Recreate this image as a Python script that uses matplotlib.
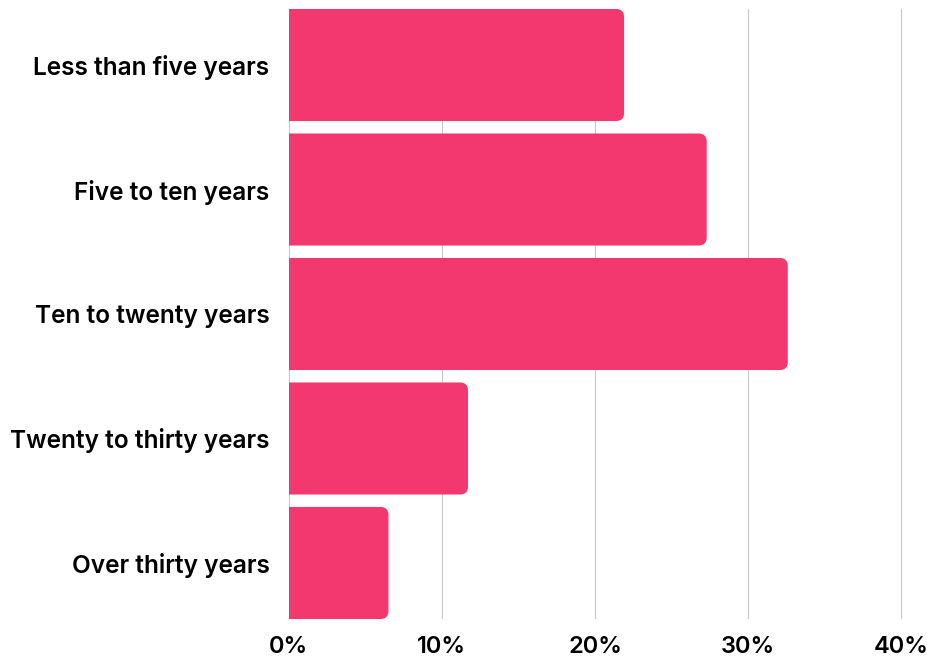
import matplotlib
matplotlib.use("Agg")
import matplotlib.pyplot as plt
from matplotlib.patches import FancyBboxPatch
from matplotlib.ticker import FuncFormatter

categories = ["Less than five years", "Five to ten years", "Ten to twenty years",
              "Twenty to thirty years", "Over thirty years"]
shares = [21.9, 27.3, 32.6, 11.7, 6.5]
xticks = [0, 10, 20, 30, 40]

bar_color = "#F2386E"
plt.rcParams["font.family"] = ["Inter", "DejaVu Sans"]

fig = plt.figure(figsize=(9.27, 6.6), dpi=100)
ax = fig.add_axes([289 / 927, 41 / 660, 616 / 927, 610 / 660])

xmax = 40 * 616 / 612
ax.set_xlim(0, xmax)
ax.set_ylim(len(categories) - 0.55, -0.55 + 0.1)

# rounded right corners: radius ~8px, left corners hidden past x=0
px_x = xmax / 616
px_y = 4.9 / 610
r = 8 * px_x
h = 0.9
for i, v in enumerate(shares):
    p = FancyBboxPatch((-2 * r, i - h / 2), v + 2 * r, h,
                       boxstyle=f"round,pad=0,rounding_size={r}",
                       mutation_aspect=px_y / px_x,
                       facecolor=bar_color, edgecolor="none", zorder=3)
    ax.add_patch(p)

ax.set_xticks(xticks)
ax.xaxis.set_major_formatter(FuncFormatter(lambda x, _: f"{x:.0f}%"))
ax.set_yticks(range(len(categories)))
ax.set_yticklabels(categories)
ax.grid(axis="x", color="#c8c8c8", linewidth=0.8, zorder=0)
ax.set_axisbelow(True)
for s in ax.spines.values():
    s.set_visible(False)
ax.tick_params(axis="y", length=0, labelsize=17.6, pad=14)
ax.tick_params(axis="x", length=0, labelsize=17, pad=12)
for lbl in ax.get_xticklabels() + ax.get_yticklabels():
    lbl.set_fontweight("semibold")

fig.savefig("out.png", dpi=100)
